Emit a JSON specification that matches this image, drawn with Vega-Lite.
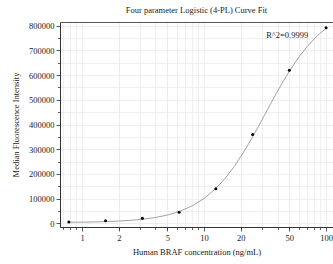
{
  "$schema": "https://vega.github.io/schema/vega-lite/v6.json",
  "width": 273,
  "height": 205,
  "autosize": {"type": "none"},
  "padding": {"left": 60, "top": 22, "right": 0, "bottom": 37},
  "background": "white",
  "config": {
    "font": "Liberation Serif",
    "view": {"stroke": null},
    "axis": {"labelFont": "Liberation Serif", "titleFont": "Liberation Serif", "labelColor": "#222", "titleColor": "#222", "titleFontWeight": "normal"}
  },
  "title": {"text": "Four parameter Logistic (4-PL) Curve Fit", "fontSize": 8.5, "fontWeight": "normal", "font": "Liberation Serif", "color": "#222", "offset": 7},
  "datasets": {
    "pts": [
      {"conc": 0.78, "mfi": 5000},
      {"conc": 1.56, "mfi": 10000},
      {"conc": 3.125, "mfi": 20000},
      {"conc": 6.25, "mfi": 45000},
      {"conc": 12.5, "mfi": 140000},
      {"conc": 25, "mfi": 360000},
      {"conc": 50, "mfi": 620000},
      {"conc": 100, "mfi": 792000}
    ],
    "curve": [
      {"conc": 0.78, "mfi": 4106},
      {"conc": 1, "mfi": 4731},
      {"conc": 1.25, "mfi": 5581},
      {"conc": 1.56, "mfi": 6844},
      {"conc": 2, "mfi": 8993},
      {"conc": 2.5, "mfi": 11932},
      {"conc": 3.125, "mfi": 16261},
      {"conc": 4, "mfi": 23525},
      {"conc": 5, "mfi": 33335},
      {"conc": 6.25, "mfi": 47545},
      {"conc": 8, "mfi": 70580},
      {"conc": 10, "mfi": 100393},
      {"conc": 12.5, "mfi": 141017},
      {"conc": 15, "mfi": 183593},
      {"conc": 18, "mfi": 235394},
      {"conc": 21, "mfi": 285953},
      {"conc": 25, "mfi": 349551},
      {"conc": 30, "mfi": 420777},
      {"conc": 35, "mfi": 482157},
      {"conc": 40, "mfi": 534402},
      {"conc": 45, "mfi": 578486},
      {"conc": 50, "mfi": 615651},
      {"conc": 60, "mfi": 673661},
      {"conc": 70, "mfi": 715793},
      {"conc": 80, "mfi": 747016},
      {"conc": 90, "mfi": 770699},
      {"conc": 100, "mfi": 788971}
    ],
    "note": [{"conc": 48, "mfi": 762000, "label": "R^2=0.9999"}]
  },
  "resolve": {"axis": {"x": "independent", "y": "independent"}},
  "layer": [
    {
      "data": {"name": "curve"},
      "mark": {"type": "line", "color": "#8a8a8a", "strokeWidth": 0.8, "clip": true},
      "encoding": {
        "x": {"field": "conc", "type": "quantitative", "scale": {"type": "log", "domain": [0.66, 114], "nice": false},
          "axis": {"orient": "bottom", "values": [0.7, 0.8, 0.9, 2, 3, 4, 5, 6, 7, 8, 9, 20, 30, 40, 50, 60, 70, 80, 90], "labels": false, "title": null, "domain": false, "grid": true, "gridColor": "#ebebeb", "gridWidth": 0.8, "tickSize": 2.5, "tickColor": "#333", "tickWidth": 0.8}},
        "y": {"field": "mfi", "type": "quantitative", "scale": {"domain": [-15000, 815000], "nice": false, "zero": false},
          "axis": {"orient": "left", "values": [50000, 150000, 250000, 350000, 450000, 550000, 650000, 750000], "labels": false, "title": null, "domain": false, "grid": true, "gridColor": "#ebebeb", "gridWidth": 0.8, "tickSize": 2.5, "tickColor": "#333", "tickWidth": 0.8}}
      }
    },
    {
      "data": {"name": "pts"},
      "mark": {"type": "circle", "color": "black", "size": 9, "opacity": 1},
      "encoding": {
        "x": {"field": "conc", "type": "quantitative",
          "axis": {"orient": "bottom", "values": [1, 2, 5, 10, 20, 50, 100], "format": "~g", "title": "Human BRAF concentration (ng/mL)", "titleFontSize": 8.5, "titlePadding": 6, "labelFontSize": 8.5, "labelPadding": 2, "domain": true, "domainColor": "#333", "domainWidth": 1, "grid": true, "gridColor": "#ebebeb", "gridWidth": 0.8, "tickSize": 4, "tickColor": "#333", "tickWidth": 0.8}},
        "y": {"field": "mfi", "type": "quantitative",
          "axis": {"orient": "left", "values": [0, 100000, 200000, 300000, 400000, 500000, 600000, 700000, 800000], "format": "d", "title": "Median Fluorescence Intensity", "titleFontSize": 8.5, "titlePadding": 8, "labelFontSize": 8.5, "labelPadding": 2, "domain": true, "domainColor": "#333", "domainWidth": 1, "grid": true, "gridColor": "#ebebeb", "gridWidth": 0.8, "tickSize": 4, "tickColor": "#333", "tickWidth": 0.8}}
      }
    },
    {
      "data": {"name": "note"},
      "mark": {"type": "text", "fontSize": 8.5, "font": "Liberation Serif", "color": "#222", "align": "center", "baseline": "middle"},
      "encoding": {
        "x": {"field": "conc", "type": "quantitative",
          "axis": {"orient": "top", "labels": false, "ticks": false, "title": null, "grid": false, "domain": true, "domainColor": "#555", "domainWidth": 1}},
        "y": {"field": "mfi", "type": "quantitative", "axis": null},
        "text": {"field": "label"}
      }
    }
  ]
}
